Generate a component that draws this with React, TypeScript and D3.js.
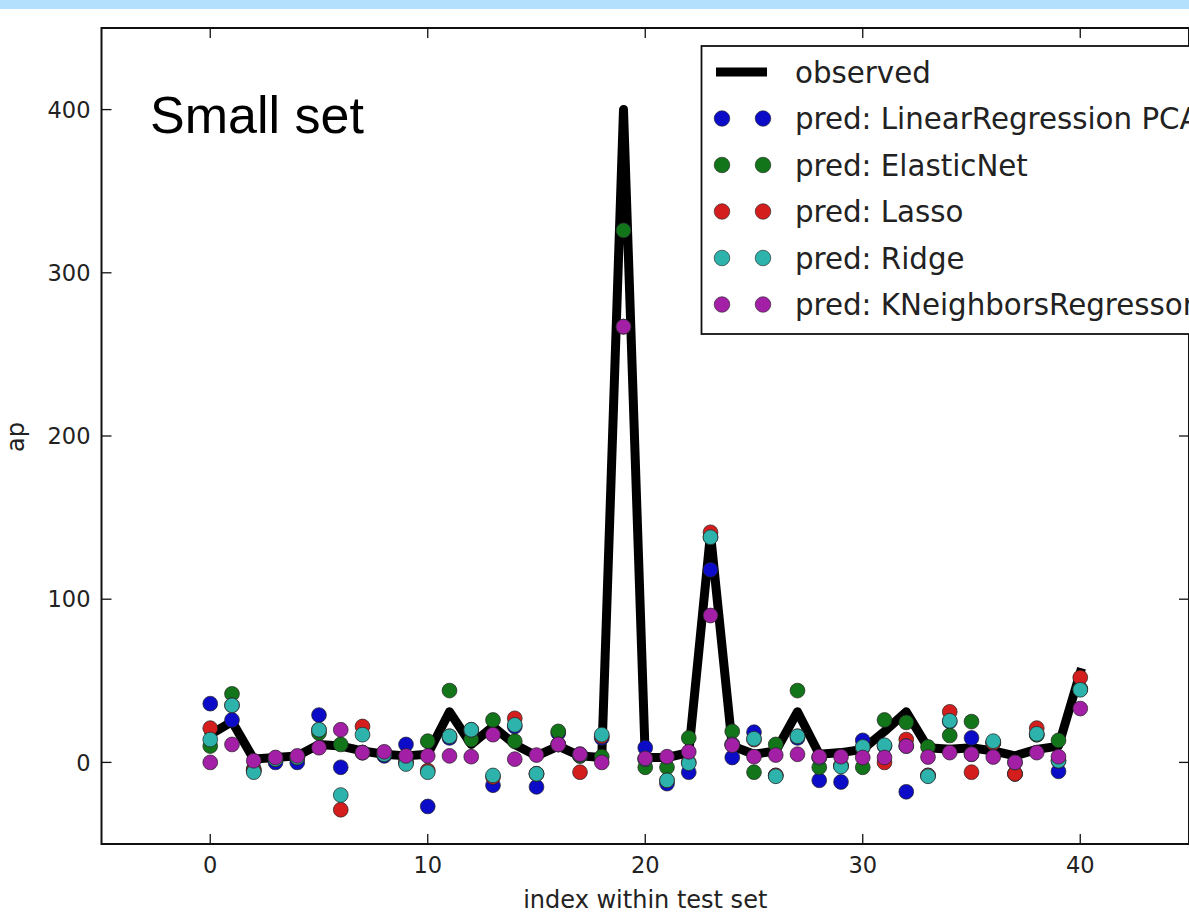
import React, { useEffect, useRef } from "react";
import * as d3 from "d3";

// index within test set
const indices = d3.range(0, 41);
const observed = [17, 25, 2, 3, 4, 11, 10, 7, 5, 4, 5, 31, 11, 22, 11, 4, 10, 4, 3, 400, 3, 3, 6, 140, 10, 5, 7, 31, 5, 6, 8, 19, 31, 9, 8, 9, 7, 4, 8, 10, 55];
const linReg = [36, 26, -5, 0, 0, 29, -3, 6, 4, 11, -27, 15, 19, -14, 22, -15, 18, 4, 15, 326, 9, -13, -6, 118, 3, 18.5, -8, 15, -11, -12, 13.5, 10, -18, -8, 25, 15, 12, -7, 17, -5.5, 45];
const elasticNet = [10, 42, -4, 2, 3, 18, 11, 6, 5, 0, 13, 44, 14, 26, 13, -7, 19, 4, 3.5, 326, -3, -3, 15, 138, 19, -6, 11, 44, -3, -2, -3, 26, 24.5, 9.5, 16.5, 25, 12, -7, 17, 13.5, 45];
const lasso = [21, 35, -5, 2, 3, 20, -29, 22, 6, 0, -5, 16, 20, -9, 27, -7, 11, -6, 16, 267, 2, -11, 0, 141, 11, 14, -8, 16, 3, -2, 9, 0, 14, -8, 31, -6, 12, -7, 21, 1, 52];
const ridge = [14, 35, -6, 2, 3, 20, -20, 17, 5, -1, -6, 16, 20, -8, 23, -7, 11, 5, 17, 267, 2, -11, -0.5, 138, 11, 14.5, -8.5, 16, 3, -2.5, 9.5, 10.5, 10, -8.5, 25.5, 5, 13, 0, 17.5, 1, 44.5];
const knn = [0, 11, 1, 3, 4, 9, 20, 6, 6.5, 4, 4, 4, 3.5, 17, 2, 4.5, 11, 5, 0, 267, 2.5, 3.5, 6.5, 90, 10.5, 3.5, 4.5, 5, 3.5, 3.5, 3, 3, 10, 3.3, 6, 5, 3.3, 0, 6, 3.5, 33];

const xTicks = [0, 10, 20, 30, 40];
const yTicks = [0, 100, 200, 300, 400];

const series = [
    { name: "pred: LinearRegression PCA", values: linReg, color: "#0c0cc8" },
    { name: "pred: ElasticNet", values: elasticNet, color: "#13751a" },
    { name: "pred: Lasso", values: lasso, color: "#d41e1e" },
    { name: "pred: Ridge", values: ridge, color: "#2db3ab" },
    { name: "pred: KNeighborsRegressor", values: knn, color: "#a21fa6" }
];

function App() {
    const chart = useRef(null);

    useEffect(() => {
        const W = 1189, H = 912;
        const margin = { top: 28, left: 101.5 };
        const width = 1087.5;
        const height = 816;
        const font = "'DejaVu Sans', sans-serif";

        const svg = d3.select(chart.current)
            .attr("width", W)
            .attr("height", H);

        svg.append("rect").attr("width", W).attr("height", H).attr("fill", "#fff");
        // light blue band at the top of the page
        svg.append("rect").attr("width", W).attr("height", 9).attr("fill", "#b3e0fc");

        const g = svg.append("g")
            .attr("transform", "translate(" + margin.left + "," + margin.top + ")");

        const x = d3.scaleLinear().domain([-5, 45]).range([0, width]);
        const y = d3.scaleLinear().domain([-50, 450]).range([height, 0]);

        // ticks pointing inward on all four sides
        const tickLen = 10;
        xTicks.forEach(t => {
            g.append("line").attr("x1", x(t)).attr("x2", x(t)).attr("y1", height).attr("y2", height - tickLen)
                .attr("stroke", "#111").attr("stroke-width", 1.3);
            g.append("line").attr("x1", x(t)).attr("x2", x(t)).attr("y1", 0).attr("y2", tickLen)
                .attr("stroke", "#111").attr("stroke-width", 1.3);
            g.append("text").attr("x", x(t)).attr("y", height + 29)
                .attr("text-anchor", "middle").attr("font-family", font).attr("font-size", 22.5)
                .attr("fill", "#222").text(t);
        });
        yTicks.forEach(t => {
            g.append("line").attr("x1", 0).attr("x2", tickLen).attr("y1", y(t)).attr("y2", y(t))
                .attr("stroke", "#111").attr("stroke-width", 1.3);
            g.append("line").attr("x1", width).attr("x2", width - tickLen).attr("y1", y(t)).attr("y2", y(t))
                .attr("stroke", "#111").attr("stroke-width", 1.3);
            g.append("text").attr("x", -11).attr("y", y(t)).attr("dy", "0.36em")
                .attr("text-anchor", "end").attr("font-family", font).attr("font-size", 22.5)
                .attr("fill", "#222").text(t);
        });

        g.append("defs").append("clipPath").attr("id", "plot-clip")
            .append("rect").attr("width", width).attr("height", height);

        const plot = g.append("g").attr("clip-path", "url(#plot-clip)");

        const line = d3.line()
            .x((d, i) => x(indices[i]))
            .y(d => y(d));

        plot.append("path")
            .datum(observed)
            .attr("d", line)
            .attr("fill", "none")
            .attr("stroke", "#000")
            .attr("stroke-width", 9)
            .attr("stroke-linejoin", "round")
            .attr("stroke-linecap", "square");

        series.forEach(s => {
            plot.selectAll(null)
                .data(s.values)
                .enter()
                .append("circle")
                    .attr("cx", (d, i) => x(indices[i]))
                    .attr("cy", d => y(d))
                    .attr("r", 7.4)
                    .attr("fill", s.color)
                    .attr("stroke", "#222")
                    .attr("stroke-opacity", 0.7)
                    .attr("stroke-width", 1);
        });

        // frame
        g.append("rect").attr("width", width).attr("height", height)
            .attr("fill", "none").attr("stroke", "#111").attr("stroke-width", 2);

        // annotation
        svg.append("text").attr("x", 150).attr("y", 133)
            .attr("font-family", "'Liberation Sans', Arial, sans-serif").attr("font-size", 52)
            .attr("fill", "#000").text("Small set");

        // axis labels
        svg.append("text").attr("x", margin.left + x(20)).attr("y", 908)
            .attr("text-anchor", "middle").attr("font-family", font).attr("font-size", 24)
            .attr("fill", "#222").text("index within test set");
        svg.append("text").attr("transform", "translate(24,437) rotate(-90)")
            .attr("text-anchor", "middle").attr("font-family", font).attr("font-size", 24)
            .attr("fill", "#222").text("ap");

        // legend
        const legend = svg.append("g");
        legend.append("rect").attr("x", 701.5).attr("y", 46).attr("width", 600).attr("height", 288)
            .attr("fill", "#fff").attr("stroke", "#111").attr("stroke-width", 1.8);
        const rowY = (i) => 72 + i * 46.5;
        legend.append("line").attr("x1", 716).attr("x2", 767).attr("y1", rowY(0)).attr("y2", rowY(0))
            .attr("stroke", "#000").attr("stroke-width", 9);
        legend.append("text").attr("x", 795).attr("y", rowY(0)).attr("dy", "0.36em")
            .attr("font-family", font).attr("font-size", 29.3).attr("fill", "#222").text("observed");
        series.forEach((s, i) => {
            [722, 763].forEach(cx => {
                legend.append("circle").attr("cx", cx).attr("cy", rowY(i + 1)).attr("r", 7.8)
                    .attr("fill", s.color).attr("stroke", "#222").attr("stroke-opacity", 0.6).attr("stroke-width", 1);
            });
            legend.append("text").attr("x", 795).attr("y", rowY(i + 1)).attr("dy", "0.36em")
                .attr("font-family", font).attr("font-size", 29.3).attr("fill", "#222").text(s.name);
        });

        return () => {
            svg.selectAll("*").remove();
        };
    }, []);

    return (
        <svg ref={chart} style={{ position: "absolute", left: 0, top: 0, display: "block" }}></svg>
    );
}

export default App;
